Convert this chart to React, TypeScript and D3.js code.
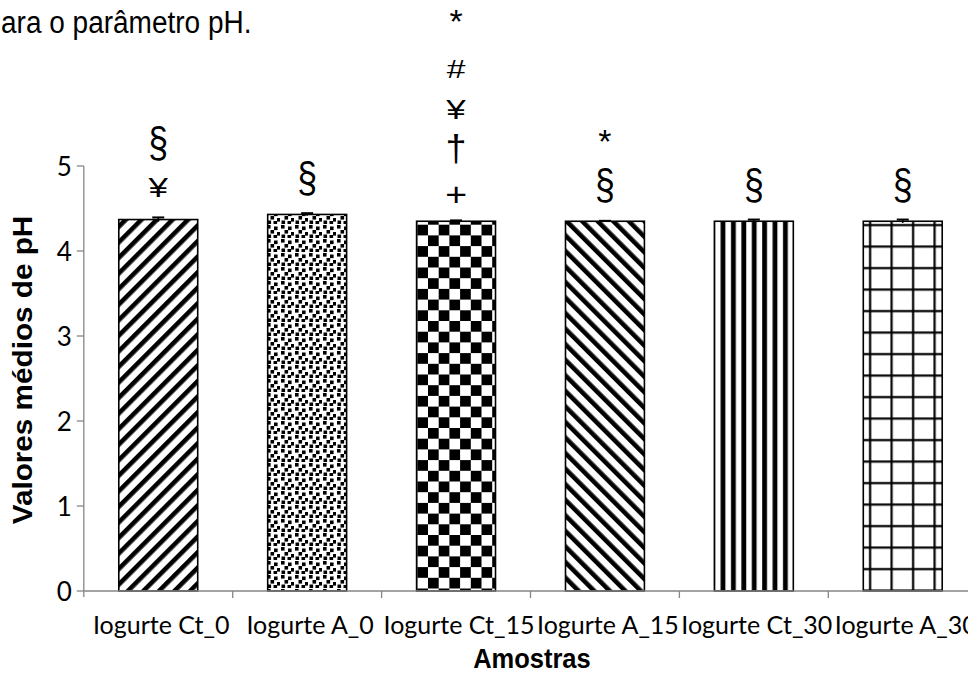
import React from "react";
import * as d3 from "d3";

const categories = ["Iogurte Ct_0", "Iogurte A_0", "Iogurte Ct_15", "Iogurte A_15", "Iogurte Ct_30", "Iogurte A_30"];
const means = [4.37, 4.43, 4.35, 4.35, 4.35, 4.35];
const errors = [0.025, 0.015, 0.01, 0.005, 0.02, 0.02];
const yTicks = [0, 1, 2, 3, 4, 5];
const symbols = [["§", "¥"], ["§"], ["*", "#", "¥", "†", "+"], ["*", "§"], ["§"], ["§"]];
const patterns = ["diagUp", "dots", "checker", "diagDown", "vert", "grid"];
const titleText = "ara o parâmetro pH.";
const yTitle = "Valores médios de pH";
const xTitle = "Amostras";

const W = 968;
const H = 673;
const left = 83.8;
const step = 148.9;
const yBottom = 591;
const yTop = 166;

const glyphStyle: Record<string, { size: number; sx: number; dy: number }> = {
  "§": { size: 42, sx: 0.85, dy: -5 },
  "¥": { size: 28, sx: 1.25, dy: 0 },
  "*": { size: 34, sx: 1, dy: -8 },
  "#": { size: 25, sx: 1.35, dy: 0 },
  "†": { size: 36, sx: 1.05, dy: 0 },
  "+": { size: 34, sx: 1.1, dy: 5 },
};

export default function App() {
  const x = d3
    .scaleBand<string>()
    .domain(categories)
    .range([left, left + step * categories.length])
    .paddingInner(0.47)
    .paddingOuter(0.235);
  const y = d3.scaleLinear().domain([0, 5]).range([yBottom, yTop]);
  const axisColor = "#868686";
  const bw = x.bandwidth();

  return (
    <svg
      width={W}
      height={H}
      style={{ position: "absolute", left: 0, top: 0, background: "#fff" }}
      xmlns="http://www.w3.org/2000/svg"
    >
      <defs>
        <pattern id="diagUp" width={11} height={11} patternUnits="userSpaceOnUse" patternTransform="rotate(45)">
          <rect x={0} y={0} width={11} height={11} fill="#fff" />
          <rect x={0} y={0} width={4.6} height={11} fill="#000" />
        </pattern>
        <pattern id="diagDown" width={11} height={11} patternUnits="userSpaceOnUse" patternTransform="rotate(-45)">
          <rect x={0} y={0} width={11} height={11} fill="#fff" />
          <rect x={0} y={0} width={4.6} height={11} fill="#000" />
        </pattern>
        <pattern id="dots" width={14} height={14} patternUnits="userSpaceOnUse">
          <rect x={0} y={0} width={14} height={14} fill="#fff" />
          <rect x={1} y={1} width={3.6} height={3.6} fill="#000" />
          <rect x={8} y={2.5} width={3.6} height={3.6} fill="#000" />
          <rect x={4.5} y={6} width={3.6} height={3.6} fill="#000" />
          <rect x={11} y={8} width={3.6} height={3.6} fill="#000" />
          <rect x={1.5} y={10.5} width={3.6} height={3.6} fill="#000" />
          <rect x={7.5} y={11} width={3.6} height={3.6} fill="#000" />
        </pattern>
        <pattern id="checker" width={21.4} height={21.4} patternUnits="userSpaceOnUse">
          <rect x={0} y={0} width={21.4} height={21.4} fill="#fff" />
          <rect x={0} y={0} width={10.7} height={10.7} fill="#000" />
          <rect x={10.7} y={10.7} width={10.7} height={10.7} fill="#000" />
        </pattern>
        <pattern id="vert" width={10.4} height={10} patternUnits="userSpaceOnUse">
          <rect x={0} y={0} width={10.4} height={10} fill="#fff" />
          <rect x={3} y={0} width={4.8} height={10} fill="#000" />
        </pattern>
        <pattern id="grid" width={21.5} height={21.5} patternUnits="userSpaceOnUse">
          <rect x={0} y={0} width={21.5} height={21.5} fill="#fff" />
          <rect x={9} y={0} width={2.2} height={21.5} fill="#000" />
          <rect x={0} y={9} width={21.5} height={2.2} fill="#000" />
        </pattern>
      </defs>

      {/* partial title */}
      <text
        transform="translate(1,33) scale(1,1.1)"
        fontFamily="Liberation Sans, Arial, sans-serif"
        fontSize={28}
        fill="#000"
      >
        {titleText}
      </text>

      {/* y axis */}
      <line x1={left} x2={left} y1={y(5)} y2={yBottom + 6} stroke={axisColor} strokeWidth={1.3} />
      {yTicks.map((t) => (
        <g key={t}>
          <line x1={left - 7} x2={left} y1={y(t)} y2={y(t)} stroke={axisColor} strokeWidth={1.3} />
          <text
            x={left - 12}
            y={y(t)}
            textAnchor="end"
            dominantBaseline="central"
            fontFamily="Lato, sans-serif"
            fontSize={26}
            fill="#000"
          >
            {t}
          </text>
        </g>
      ))}

      {/* bars */}
      {categories.map((c, i) => {
        const bx = x(c)!;
        const top = y(means[i]);
        return (
          <g key={c}>
            <rect
              x={bx}
              y={top}
              width={bw}
              height={yBottom - top}
              fill={`url(#${patterns[i]})`}
              stroke="#000"
              strokeWidth={1.6}
            />
            <line
              x1={bx + bw / 2}
              x2={bx + bw / 2}
              y1={y(means[i] - errors[i])}
              y2={y(means[i] + errors[i])}
              stroke="#000"
              strokeWidth={1.6}
            />
            <line
              x1={bx + bw / 2 - 6}
              x2={bx + bw / 2 + 6}
              y1={y(means[i] + errors[i])}
              y2={y(means[i] + errors[i])}
              stroke="#000"
              strokeWidth={2}
            />
            {symbols[i].map((s, k) => {
              const n = symbols[i].length;
              const st = glyphStyle[s];
              const cy = top - 32 - (n - 1 - k) * 40 + st.dy;
              return (
                <text
                  key={k}
                  transform={`translate(${bx + bw / 2},${cy}) scale(${st.sx},1)`}
                  textAnchor="middle"
                  dominantBaseline="central"
                  fontFamily="Liberation Sans, Arial, sans-serif"
                  fontSize={st.size}
                  fill="#000"
                >
                  {s}
                </text>
              );
            })}
          </g>
        );
      })}

      {/* x axis */}
      <line x1={left} x2={W} y1={yBottom} y2={yBottom} stroke={axisColor} strokeWidth={1.3} />
      {categories.map((c, i) => (
        <line
          key={c}
          x1={left + step * (i + 1)}
          x2={left + step * (i + 1)}
          y1={yBottom}
          y2={yBottom + 7}
          stroke={axisColor}
          strokeWidth={1.3}
        />
      ))}
      {categories.map((c) => (
        <text
          key={c}
          x={x(c)! + bw / 2 + 3}
          y={634}
          textAnchor="middle"
          fontFamily="Lato, sans-serif"
          fontSize={25}
          fill="#000"
        >
          {c}
        </text>
      ))}

      {/* axis titles */}
      <text
        transform={`translate(${(left + W) / 2 + 6},668) scale(1,1.05)`}
        textAnchor="middle"
        fontFamily="Liberation Sans, Arial, sans-serif"
        fontWeight="bold"
        fontSize={25.5}
        fill="#000"
      >
        {xTitle}
      </text>
      <text
        transform={`translate(32,${y(2.6)}) rotate(-90) scale(1.1,1)`}
        textAnchor="middle"
        fontFamily="Liberation Sans, Arial, sans-serif"
        fontWeight="bold"
        fontSize={27}
        fill="#000"
      >
        {yTitle}
      </text>
    </svg>
  );
}
